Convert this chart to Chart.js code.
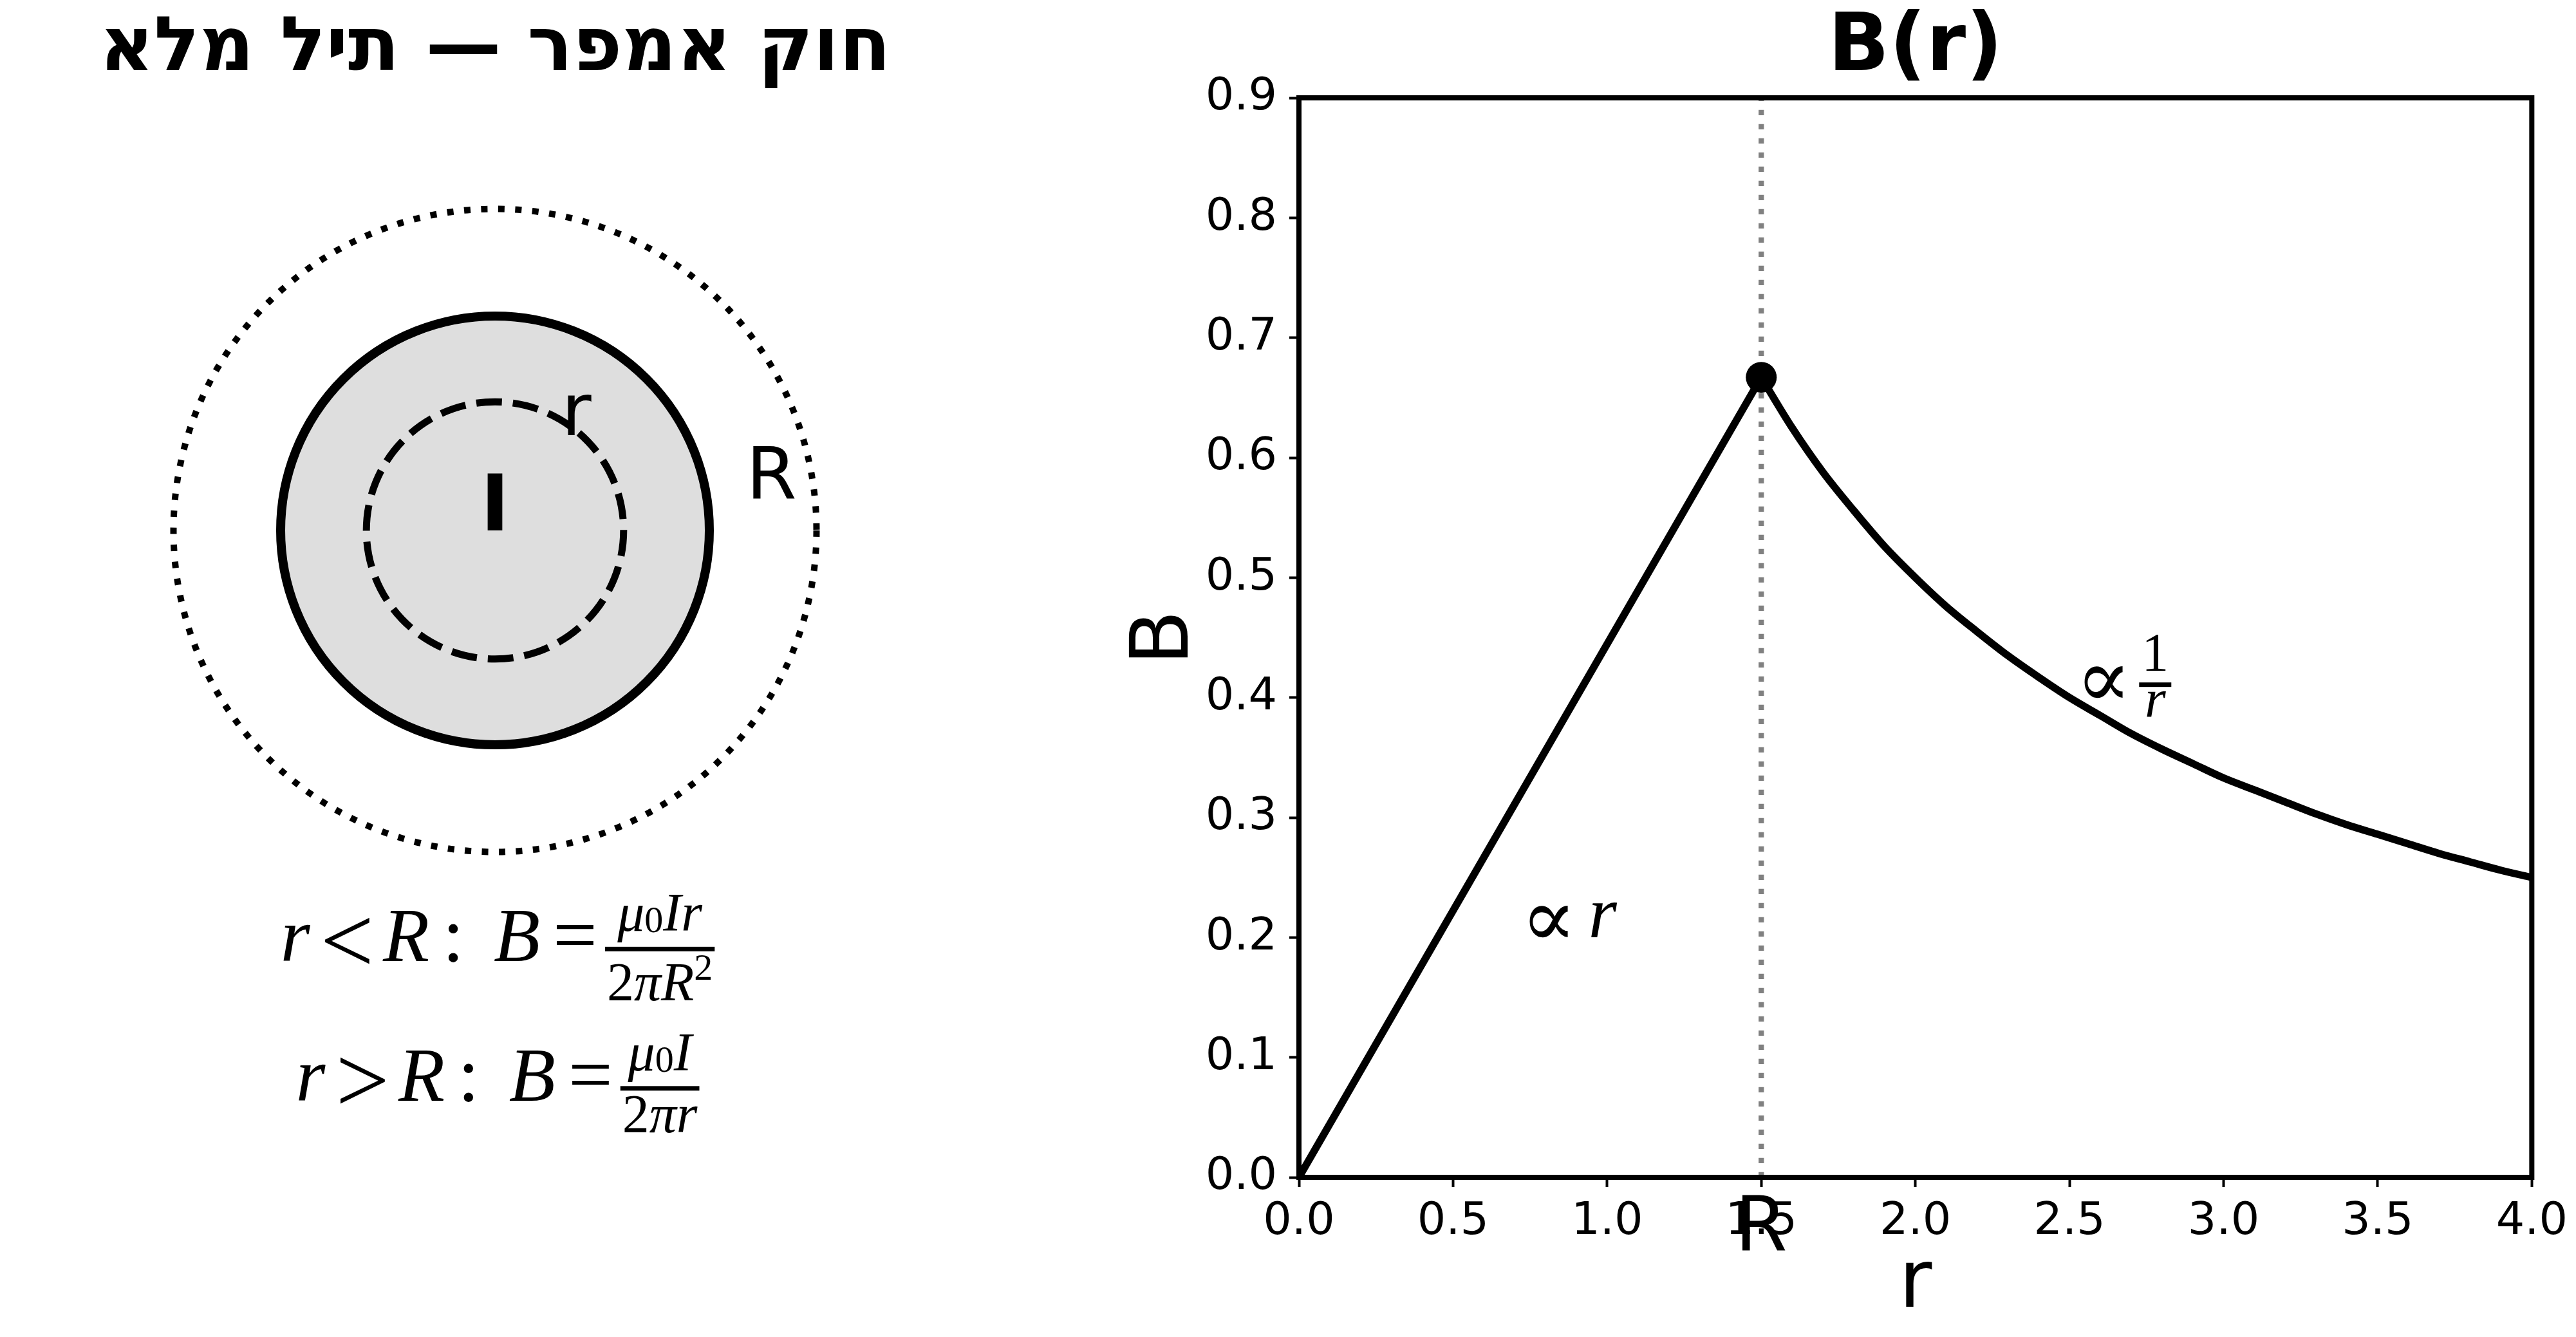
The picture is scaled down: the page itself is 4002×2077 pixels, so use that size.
<!DOCTYPE html>
<html><head><meta charset="utf-8">
<script src="https://cdn.jsdelivr.net/npm/chart.js@4"></script>
<style>
html,body{margin:0;padding:0;background:#fff;}
#wrap{position:relative;width:4002px;height:2077px;background:#fff;overflow:hidden;}
#left{position:absolute;left:0;top:0;}
#right{position:absolute;left:1600px;top:0;}
</style></head><body>
<div id="wrap">
<canvas id="left" width="1600" height="2077"></canvas>
<canvas id="right" width="2402" height="2077"></canvas>
</div>
<script>
// ---------- data ----------
const rInside = [0, 1.5];
const bInside = [0, 0.667];
const rOutside = [1.5,1.6,1.7,1.8,1.9,2.0,2.1,2.2,2.3,2.4,2.5,2.6,2.7,2.8,2.9,3.0,3.1,3.2,3.3,3.4,3.5,3.6,3.7,3.8,3.9,4.0];
const bOutside = [0.667,0.625,0.588,0.556,0.526,0.500,0.476,0.455,0.435,0.417,0.400,0.385,0.370,0.357,0.345,0.333,0.323,0.313,0.303,0.294,0.286,0.278,0.270,0.263,0.256,0.250];
const peakR = [1.5];
const peakB = [0.667];
const boundaryR = [1.5, 1.5];
const boundaryB = [0, 0.9];
const xTicks = [0,0.5,1.0,1.5,2.0,2.5,3.0,3.5,4.0];
const yTicks = [0,0.1,0.2,0.3,0.4,0.5,0.6,0.7,0.8,0.9];
const rightTitle = 'B(r)';
const leftTitle = 'חוק אמפר — תיל מלא';
const xLabel = 'r';
const yLabel = 'B';
const boundaryLabel = 'R';
// left diagram (radius units)
const wireRadius = [1.0];
const amperianRadius = [0.6];
const outerRadius = [1.5];

// ---------- helpers ----------
const SANS = '"DejaVu Sans"';
const SERIF = '"Liberation Serif", "DejaVu Serif", serif';

function runWidth(ctx, spans){
  let w = 0;
  for (const s of spans){ if (s.gap){ w += s.gap; continue; } ctx.font = s.f; w += ctx.measureText(s.t).width; }
  return w;
}
function drawRun(ctx, spans, x, base){
  for (const s of spans){
    if (s.gap){ x += s.gap; continue; }
    ctx.font = s.f; ctx.textAlign='left'; ctx.textBaseline='alphabetic';
    ctx.fillText(s.t, x, base + (s.dy||0));
    x += ctx.measureText(s.t).width;
  }
  return x;
}
function fracWidth(ctx, fr){ return Math.max(runWidth(ctx, fr.num), runWidth(ctx, fr.den)) + 2*fr.pad; }
function drawFrac(ctx, fr, x, base){
  const w = fracWidth(ctx, fr);
  const barY = base - fr.axis;
  ctx.fillRect(x, barY - fr.th/2, w, fr.th);
  const nw = runWidth(ctx, fr.num), dw = runWidth(ctx, fr.den);
  drawRun(ctx, fr.num, x + (w-nw)/2, barY - fr.numUp);
  drawRun(ctx, fr.den, x + (w-dw)/2, barY + fr.denDown);
  return x + w;
}
function itemsWidth(ctx, items){
  let w=0;
  for (const it of items){
    if (it.frac) w += fracWidth(ctx, it.frac);
    else w += runWidth(ctx,[it]);
  }
  return w;
}
function drawItems(ctx, items, x, base){
  for (const it of items){
    if (it.frac) x = drawFrac(ctx, it.frac, x, base);
    else x = drawRun(ctx, [it], x, base);
  }
  return x;
}

// ---------- left panel ----------
const MI = 'italic 118px ' + SERIF;
const MS = '122px ' + SERIF;
const ML = '148px ' + SERIF;
const FI = 'italic 84px ' + SERIF;
const FN = '84px ' + SERIF;
const SB = '58px ' + SERIF;

const formula1 = [
  {t:'r',f:MI},{gap:16},{t:'<',f:ML,dy:18},{gap:14},{t:'R',f:MI},{gap:20},{t:':',f:MS},{gap:46},
  {t:'B',f:MI},{gap:20},{t:'=',f:MS},{gap:12},
  {frac:{pad:3, th:7, axis:19, numUp:28, denDown:80,
    num:[{t:'μ',f:FI},{t:'0',f:SB,dy:2},{t:'I',f:FI},{t:'r',f:FI}],
    den:[{t:'2',f:FN},{t:'π',f:FI},{t:'R',f:FI},{t:'2',f:SB,dy:-32}]}}
];
const formula2 = [
  {t:'r',f:MI},{gap:16},{t:'>',f:ML,dy:18},{gap:14},{t:'R',f:MI},{gap:20},{t:':',f:MS},{gap:46},
  {t:'B',f:MI},{gap:20},{t:'=',f:MS},{gap:12},
  {frac:{pad:3, th:7, axis:19, numUp:28, denDown:68,
    num:[{t:'μ',f:FI},{t:'0',f:SB,dy:2},{t:'I',f:FI}],
    den:[{t:'2',f:FN},{t:'π',f:FI},{t:'r',f:FI}]}}
];

const leftPlugin = {
  id:'leftDiagram',
  afterDraw(chart){
    const ctx = chart.ctx, xs = chart.scales.x, ys = chart.scales.y;
    const cx = xs.getPixelForValue(0), cy = ys.getPixelForValue(0);
    const unit = xs.getPixelForValue(1) - cx;
    ctx.save();
    // wire
    ctx.beginPath(); ctx.arc(cx, cy, wireRadius[0]*unit, 0, Math.PI*2);
    ctx.fillStyle = '#dedede'; ctx.fill();
    ctx.lineWidth = 14; ctx.strokeStyle = '#000'; ctx.setLineDash([]); ctx.stroke();
    // amperian loop (dashed)
    ctx.beginPath(); ctx.arc(cx, cy, amperianRadius[0]*unit, 0, Math.PI*2);
    ctx.lineWidth = 11; ctx.setLineDash([40,17]); ctx.lineCap='butt'; ctx.stroke();
    // outer loop (dotted)
    ctx.beginPath(); ctx.arc(cx, cy, outerRadius[0]*unit, 0, Math.PI*2);
    ctx.lineWidth = 10; ctx.setLineDash([10,16.5]); ctx.stroke();
    ctx.setLineDash([]);
    ctx.fillStyle = '#000';
    // labels
    ctx.textAlign='center'; ctx.textBaseline='alphabetic';
    ctx.font = 'bold 121px ' + SANS;
    ctx.fillText('I', cx, cy);
    ctx.font = '113px ' + SANS;
    ctx.fillText('r', xs.getPixelForValue(0.38), ys.getPixelForValue(0.444));
    ctx.fillText('R', xs.getPixelForValue(1.29), ys.getPixelForValue(0.147));
    // title
    ctx.font = 'bold 117px ' + SANS;
    ctx.direction = 'rtl';
    ctx.textAlign = 'center';
    ctx.fillText(leftTitle, (chart.chartArea.left + chart.chartArea.right)/2, 109);
    ctx.direction = 'ltr';
    // formulas
    const w1 = itemsWidth(ctx, formula1);
    drawItems(ctx, formula1, cx - w1/2 + 4, ys.getPixelForValue(-2.01));
    const w2 = itemsWidth(ctx, formula2);
    drawItems(ctx, formula2, cx - w2/2 + 4, ys.getPixelForValue(-2.66));
    ctx.restore();
  }
};

new Chart(document.getElementById('left'), {
  type:'scatter',
  data:{datasets:[]},
  options:{
    responsive:false, animation:false, events:[],
    layout:{padding:{left:103,right:165,top:158,bottom:254}},
    plugins:{legend:{display:false},tooltip:{enabled:false}},
    scales:{
      x:{type:'linear',min:-2,max:2,display:false},
      y:{type:'linear',min:-3,max:2,display:false}
    }
  },
  plugins:[leftPlugin]
});

// ---------- right panel ----------
const AI = 'italic 114px ' + SERIF;
const AP = '128px ' + SERIF;
const AFI = 'italic 84px ' + SERIF;
const AFN = '84px ' + SERIF;

const annLinear = [{t:'∝',f:AP,dy:14},{gap:18},{t:'r',f:AI}];
const annInverse = [{t:'∝',f:AP,dy:14},{gap:12},
  {frac:{pad:4, th:7, axis:20, numUp:22, denDown:50,
    num:[{t:'1',f:AFN}], den:[{t:'r',f:AFI}]}}];

const rightPlugin = {
  id:'rightExtras',
  afterDatasetsDraw(chart){
    const ctx = chart.ctx, a = chart.chartArea;
    ctx.save();
    ctx.strokeStyle = '#000'; ctx.lineWidth = 8; ctx.lineJoin='miter'; ctx.setLineDash([]);
    ctx.strokeRect(a.left, a.top, a.right-a.left, a.bottom-a.top);
    ctx.restore();
  },
  afterDraw(chart){
    const ctx = chart.ctx, a = chart.chartArea, xs = chart.scales.x, ys = chart.scales.y;
    ctx.save();
    ctx.fillStyle = '#000';
    ctx.textAlign='center'; ctx.textBaseline='alphabetic';
    ctx.font = 'bold 125px ' + SANS;
    ctx.fillText(rightTitle, (a.left+a.right)/2, 109);
    ctx.font = '117px ' + SANS;
    ctx.fillText(boundaryLabel, xs.getPixelForValue(boundaryR[0]), 1942);
    drawItems(ctx, annLinear, xs.getPixelForValue(0.72), ys.getPixelForValue(0.2));
    drawItems(ctx, annInverse, xs.getPixelForValue(2.52), ys.getPixelForValue(0.4));
    ctx.restore();
  }
};

new Chart(document.getElementById('right'), {
  type:'scatter',
  data:{datasets:[
    {label:'peak', data: peakR.map((x,i)=>({x, y:peakB[i]})), pointRadius:24, pointBackgroundColor:'#000', pointBorderWidth:0, showLine:false, order:1},
    {label:'inside', data: rInside.map((x,i)=>({x, y:bInside[i]})), showLine:true, borderColor:'#000', borderWidth:11.5, pointRadius:0, borderCapStyle:'butt', borderJoinStyle:'round', order:2},
    {label:'outside', data: rOutside.map((x,i)=>({x, y:bOutside[i]})), showLine:true, borderColor:'#000', borderWidth:11.5, pointRadius:0, cubicInterpolationMode:'monotone', borderCapStyle:'butt', order:2},
    {label:'boundary', data: boundaryR.map((x,i)=>({x, y:boundaryB[i]})), showLine:true, borderColor:'#808080', borderWidth:8.3, borderDash:[8.3,13.7], borderCapStyle:'butt', pointRadius:0, order:3}
  ]},
  options:{
    responsive:false, animation:false, events:[],
    layout:{padding:{left:0,right:67,top:152,bottom:0}},
    plugins:{legend:{display:false},tooltip:{enabled:false},title:{display:false}},
    scales:{
      x:{type:'linear',min:0,max:4,
        afterBuildTicks:s=>{s.ticks = xTicks.map(v=>({value:v}));},
        ticks:{callback:v=>Number(v).toFixed(1), font:{family:'DejaVu Sans',size:70}, color:'#000', padding:13, maxRotation:0, autoSkip:false},
        grid:{display:true, drawOnChartArea:false, drawTicks:true, tickLength:15, tickWidth:4, tickColor:'#000'},
        border:{display:false},
        title:{display:true, text:xLabel, font:{family:'DejaVu Sans',size:125}, color:'#000', padding:{top:0,bottom:4}},
        afterFit:s=>{s.height=248;}
      },
      y:{type:'linear',min:0,max:0.9,
        afterBuildTicks:s=>{s.ticks = yTicks.map(v=>({value:v}));},
        ticks:{callback:v=>Number(v).toFixed(1), font:{family:'DejaVu Sans',size:70}, color:'#000', padding:19, autoSkip:false},
        grid:{display:true, drawOnChartArea:false, drawTicks:true, tickLength:15, tickWidth:4, tickColor:'#000'},
        border:{display:false},
        title:{display:true, text:yLabel, font:{family:'DejaVu Sans',size:125}, color:'#000', padding:{top:138,bottom:0}},
        afterFit:s=>{s.width=418;}
      }
    }
  },
  plugins:[rightPlugin]
});
</script>
</body></html>
